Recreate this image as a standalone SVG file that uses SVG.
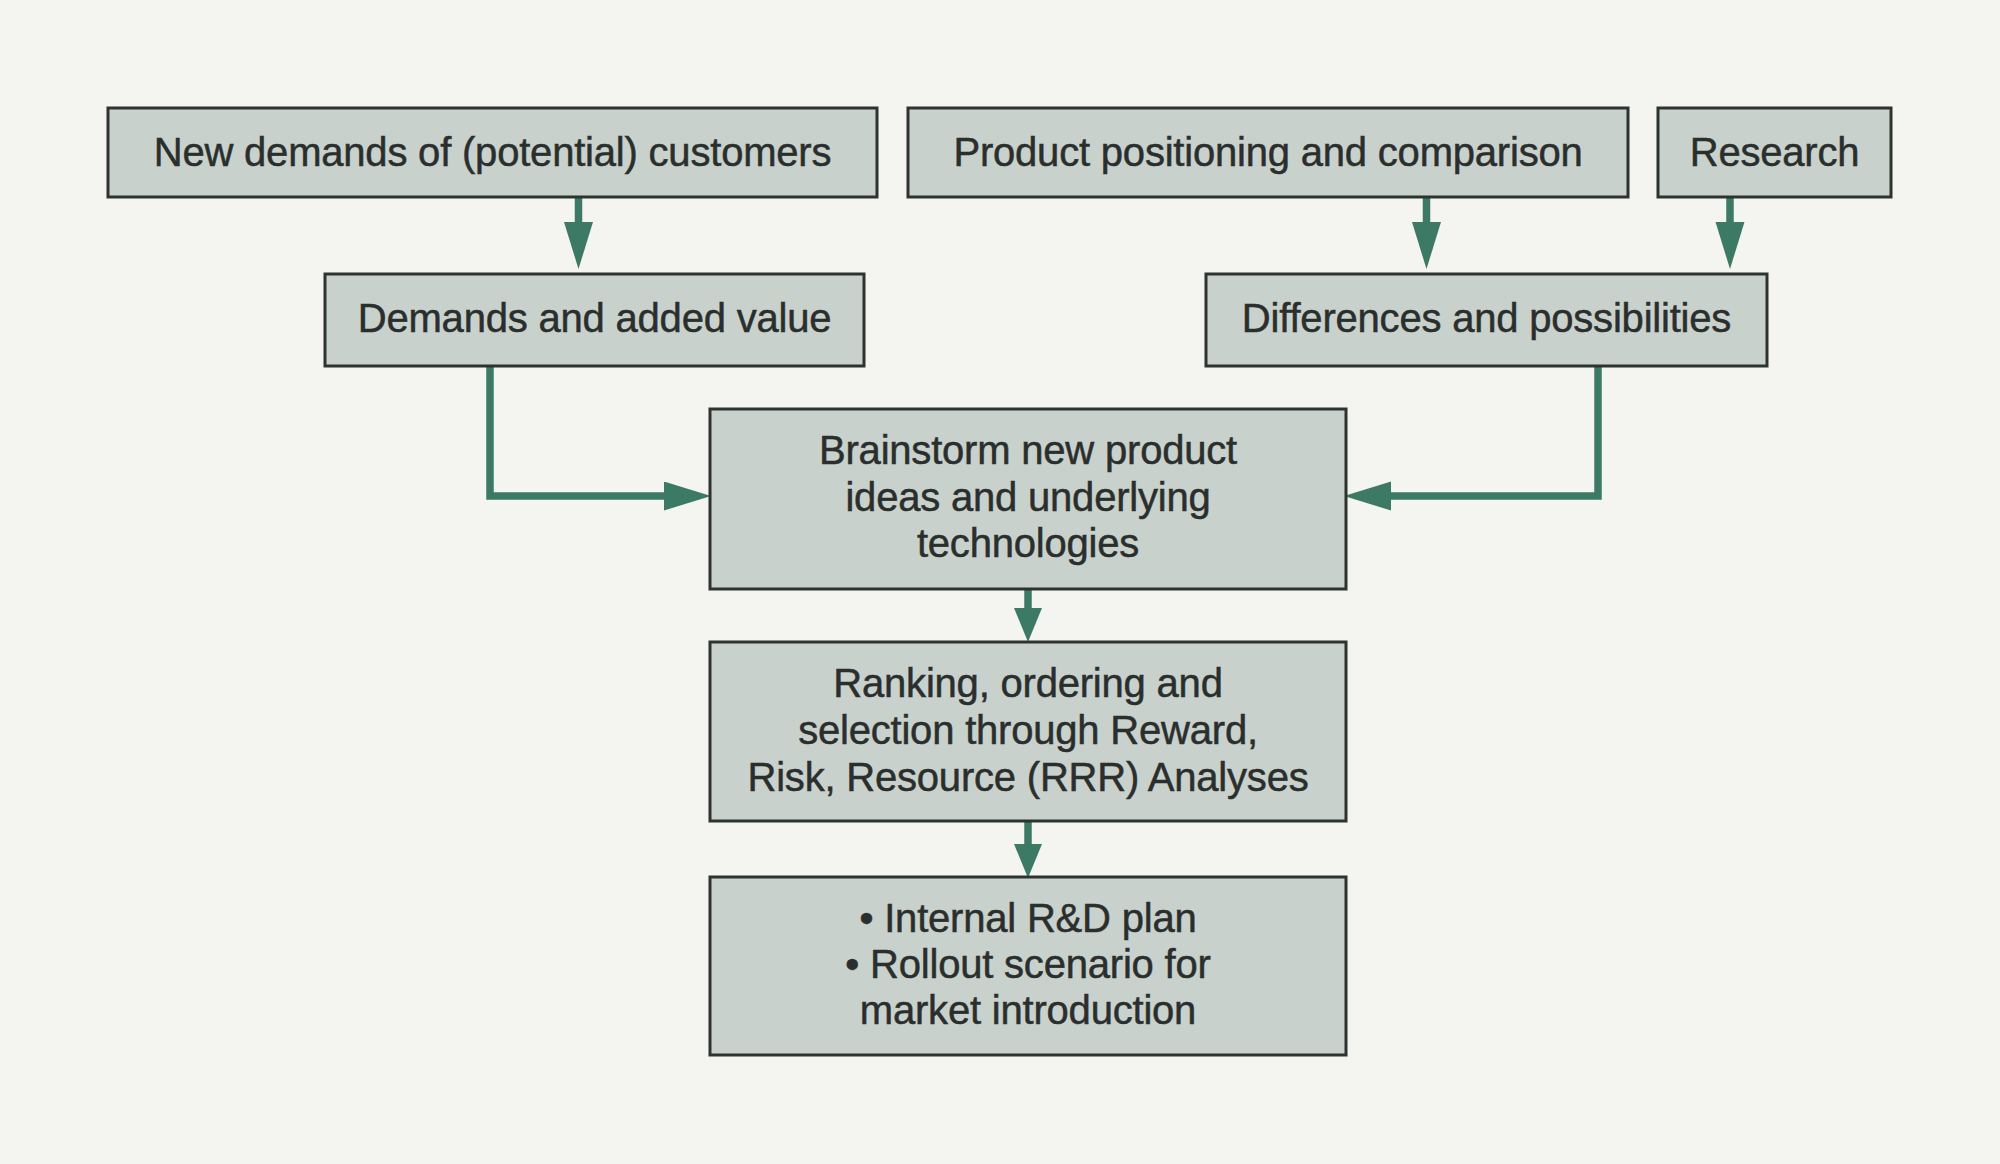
<svg xmlns="http://www.w3.org/2000/svg" width="2000" height="1164" viewBox="0 0 2000 1164">
  <style>
    .box { fill: #c9d1cc; stroke: #2c3330; stroke-width: 3; }
    .lbl { font-family: "Liberation Sans", Arial, sans-serif; font-size: 40px; letter-spacing: -0.2px; fill: #2a2f2d; stroke: #2a2f2d; stroke-width: 0.5; text-anchor: middle; }
    .con { fill: none; stroke: #3d7a65; stroke-width: 7.5; stroke-linejoin: miter; stroke-linecap: butt; }
  </style>
  <defs>
    <marker id="ah" markerUnits="userSpaceOnUse" markerWidth="50" markerHeight="30" refX="2" refY="14.5" orient="auto">
      <path d="M0,0 L47,14.5 L0,29 Z" fill="#3d7a65"/>
    </marker>
    <marker id="ahs" markerUnits="userSpaceOnUse" markerWidth="40" markerHeight="30" refX="2" refY="14" orient="auto">
      <path d="M0,0 L34,14 L0,28 Z" fill="#3d7a65"/>
    </marker>
  </defs>
  <rect x="0" y="0" width="2000" height="1164" fill="#f4f5f0"/>

  <g id="connectors">
    <path class="con" d="M578.5,195 V224" marker-end="url(#ah)"/>
    <path class="con" d="M1426.5,195 V224" marker-end="url(#ah)"/>
    <path class="con" d="M1730,195 V224" marker-end="url(#ah)"/>
    <path class="con" d="M490,364 V496 H666" marker-end="url(#ah)"/>
    <path class="con" d="M1598,364 V496 H1389" marker-end="url(#ah)"/>
    <path class="con" d="M1028,587 V610" marker-end="url(#ahs)"/>
    <path class="con" d="M1028,819 V846" marker-end="url(#ahs)"/>
  </g>

  <g id="node-new-demands">
    <rect class="box" x="108" y="108" width="769" height="89"/>
    <text class="lbl" x="492.5" y="166">New demands of (potential) customers</text>
  </g>
  <g id="node-product-positioning">
    <rect class="box" x="908" y="108" width="720" height="89"/>
    <text class="lbl" x="1268" y="166">Product positioning and comparison</text>
  </g>
  <g id="node-research">
    <rect class="box" x="1658" y="108" width="233" height="89"/>
    <text class="lbl" x="1774.5" y="166">Research</text>
  </g>
  <g id="node-demands-added-value">
    <rect class="box" x="325" y="274" width="539" height="92"/>
    <text class="lbl" x="594.5" y="332">Demands and added value</text>
  </g>
  <g id="node-differences">
    <rect class="box" x="1206" y="274" width="561" height="92"/>
    <text class="lbl" x="1486.5" y="332">Differences and possibilities</text>
  </g>
  <g id="node-brainstorm">
    <rect class="box" x="710" y="409" width="636" height="180"/>
    <text class="lbl" x="1028" y="464">Brainstorm new product</text>
    <text class="lbl" x="1028" y="510.5">ideas and underlying</text>
    <text class="lbl" x="1028" y="557">technologies</text>
  </g>
  <g id="node-ranking">
    <rect class="box" x="710" y="642" width="636" height="179"/>
    <text class="lbl" x="1028" y="697">Ranking, ordering and</text>
    <text class="lbl" x="1028" y="743.5">selection through Reward,</text>
    <text class="lbl" x="1028" y="791">Risk, Resource (RRR) Analyses</text>
  </g>
  <g id="node-plan">
    <rect class="box" x="710" y="877" width="636" height="178"/>
    <text class="lbl" x="1028" y="932">• Internal R&amp;D plan</text>
    <text class="lbl" x="1028" y="978">• Rollout scenario for</text>
    <text class="lbl" x="1028" y="1024">market introduction</text>
  </g>
</svg>
